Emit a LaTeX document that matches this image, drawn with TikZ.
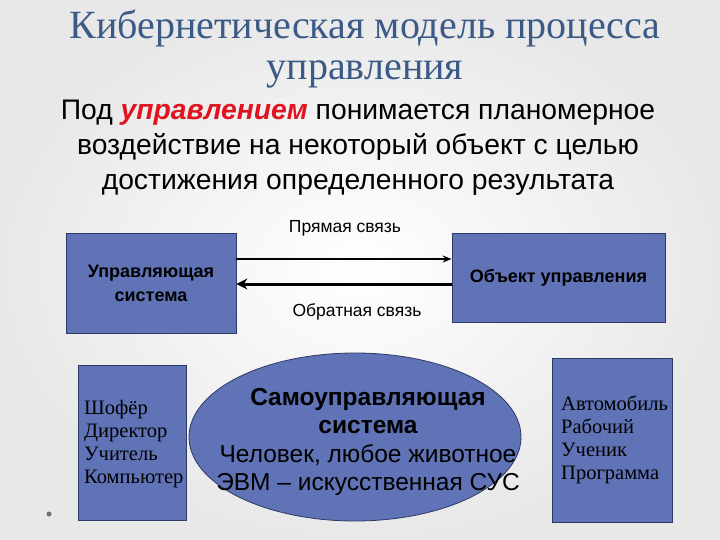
\documentclass[tikz,border=0pt]{standalone}
\usepackage{fontspec}
\setmainfont{Liberation Serif}
\setsansfont{Liberation Sans}
\usetikzlibrary{shapes.geometric,arrows.meta}
\definecolor{boxfill}{HTML}{6073B6}
\definecolor{boxdraw}{HTML}{2E3A66}
\definecolor{titlecol}{HTML}{3B5A85}
\definecolor{redword}{HTML}{E0141E}
\tikzset{
  blk/.style={draw=boxdraw, fill=boxfill, line width=0.8pt, inner sep=0pt},
  lbl/.style={font=\sffamily\fontsize{17.5}{20}\selectfont, inner sep=0pt},
  boxtxt/.style={font=\sffamily\bfseries\fontsize{18}{24}\selectfont, align=center, inner sep=0pt},
  sertxt/.style={font=\fontsize{20.5}{23}\selectfont, align=left, inner sep=0pt, anchor=west},
}
\begin{document}
\begin{tikzpicture}[x=1pt,y=-1pt]
\useasboundingbox (0,0) rectangle (720,540);
\shade[inner color=white, outer color=black!9] (0,0) rectangle (720,540);
% title
\node[font=\fontsize{40}{41}\selectfont, text=titlecol, align=center, inner sep=0pt] (title) at (365,49)
  {Кибернетическая модель процесса\\управления};
% definition
\node[font=\sffamily\fontsize{28.3}{35}\selectfont, align=center, inner sep=0pt] (def) at (358,148)
  {Под {\color{redword}\bfseries\itshape управлением} понимается планомерное\\воздействие на некоторый объект с целью\\достижения определенного результата};
% top boxes
\node[blk, minimum width=170pt, minimum height=100pt] (ctrl) at (151,283) {};
\node[boxtxt] at (ctrl) {Управляющая\\система};
\node[blk, minimum width=213pt, minimum height=89pt] (obj) at (558.5,277.5) {};
\node[boxtxt] at (obj) {Объект управления};
% arrows
\coordinate (a1s) at (ctrl.east |- 0,259);
\coordinate (a1e) at (obj.west |- 0,259);
\draw[line width=1.3pt, -{Stealth[length=9pt,width=7pt]}] (a1s) -- (a1e);
\coordinate (a2s) at (obj.west |- 0,284);
\coordinate (a2e) at (ctrl.east |- 0,284);
\draw[line width=3pt, -{Stealth[length=11pt,width=11pt]}] (a2s) -- (a2e);
\node[lbl] (pr) at (345,228) {Прямая связь};
\node[lbl] (ob) at (357,312) {Обратная связь};
% bottom
\node[blk, minimum width=108pt, minimum height=155pt] (lb) at (132,443) {};
\node[sertxt] at (84,444) {Шофёр\\Директор\\Учитель\\Компьютер};
\node[blk, ellipse, minimum width=332pt, minimum height=168pt] (ell) at (355,437) {};
\node[font=\sffamily\fontsize{24.5}{28.5}\selectfont, align=center, inner sep=0pt] at (368,442)
  {{\bfseries Самоуправляющая}\\{\bfseries система}\\Человек, любое животное\\ЭВМ – искусственная СУС};
\node[blk, minimum width=120pt, minimum height=164pt] (rb) at (612,440) {};
\node[sertxt] at (561,440) {Автомобиль\\Рабочий\\Ученик\\Программа};
\fill[black!55] (49,514) circle (2.5pt);
\end{tikzpicture}
\end{document}
